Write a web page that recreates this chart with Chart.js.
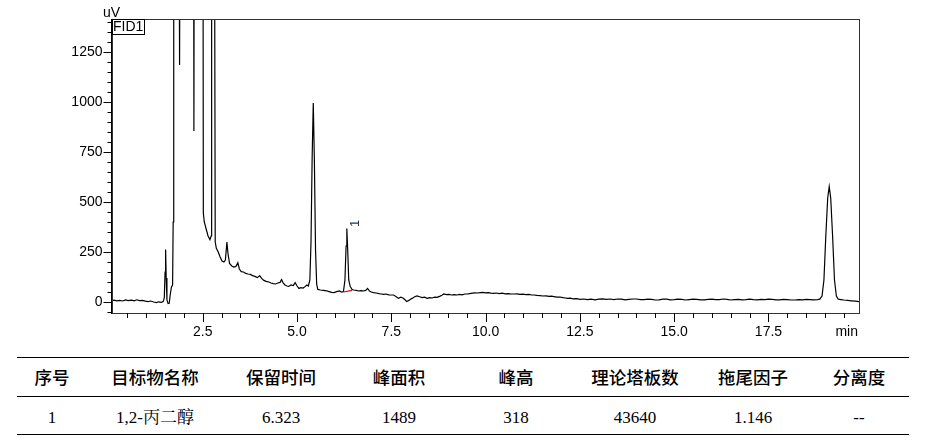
<!DOCTYPE html>
<html><head><meta charset="utf-8">
<script src="https://cdn.jsdelivr.net/npm/chart.js@4.4.0/dist/chart.umd.min.js"></script>
<style>
html,body{margin:0;padding:0;background:#fff;width:934px;height:447px;overflow:hidden;}
#wrap{position:absolute;left:0;top:0;width:934px;height:345px;}
.rule{position:absolute;left:17px;width:892px;height:0;border-top:1.3px solid #000;}
.cell{position:absolute;transform:translate(-50%,-50%);white-space:nowrap;color:#000;line-height:1;}
.hd{font-family:"Noto Sans CJK SC",sans-serif;font-weight:500;font-size:17.5px;}
.dt{font-family:"Liberation Serif","Noto Serif CJK SC","Noto Sans CJK SC",serif;font-size:17px;}
</style></head><body>
<div id="wrap"><canvas id="c" width="934" height="345"></canvas></div>
<div id="table"></div>
<script>
// ---- chromatogram data (min, uV) ----
const retentionTime = [
0.08,0.15,0.22,0.30,0.38,0.45,0.52,0.60,0.68,0.75,0.82,0.90,0.98,1.05,1.12,1.20,1.27,1.33,1.40,1.45,
1.48,1.50,1.515,1.53,1.55,1.58,1.61,1.64,1.67,1.70,1.715,1.73,1.86,1.885,1.91,2.25,2.265,2.28,
2.50,2.515,2.54,2.59,2.64,2.69,2.72,2.735,2.80,2.83,2.86,2.91,2.96,3.01,3.06,3.10,3.14,3.17,3.21,
3.27,3.32,3.38,3.43,3.47,3.52,3.58,3.64,3.70,3.76,3.82,3.88,3.95,4.01,4.06,4.12,4.18,4.25,4.31,
4.37,4.43,4.49,4.55,4.59,4.63,4.68,4.73,4.78,4.84,4.90,4.95,5.00,5.05,5.10,5.16,5.22,5.26,5.30,
5.34,5.37,5.40,5.43,5.46,5.49,5.52,5.55,5.62,5.70,5.78,5.85,5.92,5.98,6.05,6.12,6.18,6.23,
6.27,6.30,6.32,6.345,6.37,6.41,6.46,6.50,6.57,6.63,6.70,6.76,6.82,6.87,6.92,6.97,7.03,7.10,
7.17,7.23,7.29,7.36,7.43,7.50,7.56,7.62,7.69,7.75,7.81,7.87,7.91,7.96,8.01,8.05,8.12,8.18,8.25,
8.32,8.38,8.45,8.52,8.58,8.65,8.71,8.78,8.84,8.89,8.96,9.03,9.10,9.17,9.24,9.31,9.38,9.45,9.51,
9.58,9.65,9.72,9.79,9.86,9.93,10.00,10.07,10.14,10.21,10.28,10.36,10.44,10.52,10.60,10.68,10.75,
10.83,10.91,10.99,11.07,11.15,11.22,11.28,11.36,11.44,11.52,11.60,11.68,11.75,11.81,11.89,11.97,
12.05,12.12,12.16,12.24,12.32,12.40,12.48,12.52,
12.6,12.7,12.8,12.9,13.0,13.1,13.2,13.3,13.4,13.5,
13.6,13.7,13.8,13.9,14.0,14.1,14.2,14.3,14.4,14.5,
14.6,14.7,14.8,14.9,15.0,15.1,15.2,15.3,15.4,15.5,
15.6,15.7,15.8,15.9,16.0,16.1,16.2,16.3,16.4,16.5,
16.6,16.7,16.8,16.9,17.0,17.1,17.2,17.3,17.4,17.5,
17.6,17.7,17.8,17.9,18.0,18.1,18.2,18.3,18.4,18.5,
18.6,18.7,18.8,
18.86,18.92,18.97,19.02,19.07,19.11,19.15,19.20,19.25,19.30,19.35,19.42,19.50,19.60,19.70,19.80,19.90
];
const signalUV = [
7,9,6,8,5,10,7,9,6,11,7,8,4,2,5,0,-3,1,-2,2,
20,150,262,120,10,-8,-6,40,75,85,400,3000,3000,1185,3000,3000,855,3000,
3000,445,400,365,330,312,330,3000,3000,300,268,250,225,205,200,210,300,240,193,
180,175,178,196,165,152,150,143,140,138,132,128,122,132,118,108,103,100,95,
92,90,95,98,112,96,85,80,78,85,82,97,80,68,72,70,78,85,80,
110,300,720,995,700,260,90,63,60,58,56,52,48,47,52,55,50,52,
110,280,368,250,110,77,62,60,58,55,57,55,58,68,55,50,47,45,
42,40,38,40,36,35,35,28,18,24,20,10,2,8,14,18,26,30,26,
22,24,18,22,20,24,23,28,34,40,37,38,35,37,35,38,36,40,40,
42,44,46,45,47,48,46,47,44,43,45,42,44,41,42,40,40,
41,38,39,37,38,35,35,33,32,30,31,28,29,27,24,25,
22,20,18,19,16,17,14,13,
15,12,14,11,14,16,13,15,12,15,
14,11,13,15,15,12,12,14,13,10,
11,14,14,11,12,14,13,10,12,14,
13,11,11,13,14,12,12,15,13,10,
12,13,11,12,14,12,11,13,12,14,
13,11,11,13,12,10,10,12,11,13,
12,11,12,
14,30,110,330,520,577,520,330,110,30,14,12,10,8,6,4,2
];
// integration baseline under peak 1 (red)
const baselineTime = [6.23, 6.46];
const baselineUV = [50, 58];
// axis ranges & labelled ticks
const xRange = [0.08, 19.9];
const yRange = [-55, 1415];
const xLabelValues = [2.5, 5.0, 7.5, 10.0, 12.5, 15.0, 17.5];
const yLabelValues = [0, 250, 500, 750, 1000, 1250];
const peakLabels = [{t: 6.323, v: 368, text: '1'}];
// ---- results table ----
const tableHeaders = ['序号','目标物名称','保留时间','峰面积','峰高','理论塔板数','拖尾因子','分离度'];
const tableRow = ['1','1,2-丙二醇','6.323','1489','318','43640','1.146','--'];

const AX_FONT = "'Liberation Sans Narrow','Arial Narrow','Liberation Sans',Arial,sans-serif";
const isLabelled = (v, arr) => arr.some(a => Math.abs(a - v) < 1e-6);

const decor = {
  id: 'decor',
  afterDraw(chart) {
    const {ctx, chartArea: a, scales: {x, y}} = chart;
    ctx.save();
    ctx.lineWidth = 1;
    // frame
    ctx.strokeStyle = '#333';
    ctx.strokeRect(Math.round(a.left) + 0.5, Math.round(a.top) + 0.5, Math.round(a.right - a.left) - 1, Math.round(a.bottom - a.top));
    ctx.strokeStyle = '#000';
    // ticks
    ctx.beginPath();
    y.ticks.forEach(t => {
      const py = Math.round(y.getPixelForValue(t.value)) + 0.5;
      if (py < a.top - 0.5 || py > a.bottom + 0.5) return;
      const len = isLabelled(t.value, yLabelValues) ? 8 : 4;
      ctx.moveTo(a.left - len, py); ctx.lineTo(a.left, py);
    });
    x.ticks.forEach(t => {
      const px = Math.round(x.getPixelForValue(t.value)) + 0.5;
      const len = isLabelled(t.value, xLabelValues) ? 9 : 5;
      ctx.moveTo(px, a.bottom); ctx.lineTo(px, a.bottom + len);
    });
    ctx.stroke();
    // unit labels
    ctx.fillStyle = '#000';
    ctx.font = '14px ' + AX_FONT;
    ctx.textAlign = 'center'; ctx.textBaseline = 'alphabetic';
    ctx.fillText('uV', a.left, 17);
    ctx.textAlign = 'right'; ctx.textBaseline = 'top';
    ctx.fillText('min', a.right - 1, a.bottom + 12);
    // FID1 box
    ctx.fillStyle = '#fff';
    ctx.fillRect(Math.round(a.left) + 0.5, Math.round(a.top) + 0.5, 32, 15);
    ctx.strokeRect(Math.round(a.left) + 0.5, Math.round(a.top) + 0.5, 32, 15);
    ctx.fillStyle = '#000';
    ctx.font = '14px ' + AX_FONT;
    ctx.textAlign = 'left'; ctx.textBaseline = 'middle';
    ctx.fillText('FID1', a.left + 1.5, a.top + 8.5);
    // peak labels (rotated)
    ctx.fillStyle = '#1f3560';
    ctx.font = '13px ' + AX_FONT;
    peakLabels.forEach(p => {
      const px = x.getPixelForValue(p.t) + 8, py = y.getPixelForValue(p.v) - 5;
      ctx.save(); ctx.translate(px, py); ctx.rotate(-Math.PI / 2);
      ctx.textAlign = 'center'; ctx.textBaseline = 'middle';
      ctx.fillText(p.text, 0, 0); ctx.restore();
    });
    ctx.restore();
  }
};

new Chart(document.getElementById('c'), {
  type: 'line',
  data: {
    datasets: [
      { data: retentionTime.map((t, i) => ({x: t, y: signalUV[i]})), borderColor: '#000', borderWidth: 1.2, pointRadius: 0, tension: 0, fill: false, order: 1 },
      { data: baselineTime.map((t, i) => ({x: t, y: baselineUV[i]})), borderColor: '#e00000', borderWidth: 1.2, pointRadius: 0, tension: 0, fill: false, order: 0 }
    ]
  },
  options: {
    responsive: false, animation: false, maintainAspectRatio: false,
    layout: { padding: { top: 19, right: 75, left: 0, bottom: 0 } },
    plugins: { legend: { display: false }, tooltip: { enabled: false } },
    scales: {
      x: {
        type: 'linear', min: xRange[0], max: xRange[1],
        afterFit: s => { s.height = 32; },
        grid: { display: true, drawOnChartArea: false, drawTicks: true, tickLength: 9, tickColor: 'rgba(0,0,0,0)' },
        border: { display: true, color: '#000', width: 1 },
        ticks: { stepSize: 0.5, includeBounds: false, autoSkip: false, maxRotation: 0, padding: 2, color: '#000',
          font: { family: AX_FONT, size: 14 },
          callback: v => isLabelled(v, xLabelValues) ? v.toFixed(1) : '' }
      },
      y: {
        min: yRange[0], max: yRange[1],
        afterFit: s => { s.width = 111.5; },
        grid: { display: true, drawOnChartArea: false, drawTicks: true, tickLength: 8, tickColor: 'rgba(0,0,0,0)' },
        border: { display: true, color: '#000', width: 1 },
        ticks: { stepSize: 50, includeBounds: false, autoSkip: false, padding: 1, color: '#000',
          font: { family: AX_FONT, size: 14 },
          callback: v => isLabelled(v, yLabelValues) ? String(v) : '' }
      }
    }
  },
  plugins: [decor]
});

// results table (HTML text)
const colX = [52, 155, 281, 399, 516, 635, 753, 859];
const tbl = document.getElementById('table');
[357, 396, 434].forEach(yy => { const d = document.createElement('div'); d.className = 'rule'; d.style.top = yy + 'px'; tbl.appendChild(d); });
tableHeaders.forEach((h, i) => { const s = document.createElement('span'); s.className = 'cell hd'; s.textContent = h; s.style.left = colX[i] + 'px'; s.style.top = '377px'; tbl.appendChild(s); });
tableRow.forEach((h, i) => { const s = document.createElement('span'); s.className = 'cell dt'; s.textContent = h; s.style.left = colX[i] + 'px'; s.style.top = '416.5px'; tbl.appendChild(s); });
</script>
</body></html>
